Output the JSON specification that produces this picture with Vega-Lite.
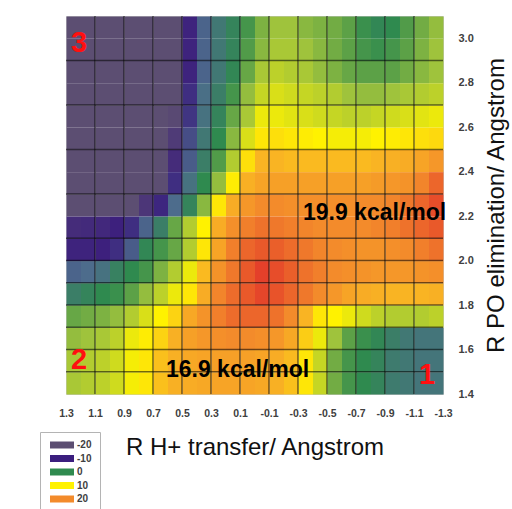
{
"$schema": "https://vega.github.io/schema/vega-lite/v6.json",
"width": 377, "height": 378,
"autosize": "none",
"padding": {"left": 66, "top": 16, "right": 69, "bottom": 115},
"background": "white",
"config": {"view": {"stroke": "#c8c8c8"}, "font": "Liberation Sans"},
"datasets": {
"surface": [
{"x":1.2,"y":3,"v":-25},{"x":1.1,"y":3,"v":-25},{"x":1,"y":3,"v":-25},{"x":0.9,"y":3,"v":-24.5},{"x":0.8,"y":3,"v":-24},{"x":0.7,"y":3,"v":-23.5},{"x":0.6,"y":3,"v":-22.5},{"x":0.5,"y":3,"v":-21},{"x":0.4,"y":3,"v":-11},{"x":0.3,"y":3,"v":-5.5},{"x":0.2,"y":3,"v":-3},{"x":0.1,"y":3,"v":-1},{"x":0,"y":3,"v":1},{"x":-0.1,"y":3,"v":3.5},{"x":-0.2,"y":3,"v":5},{"x":-0.3,"y":3,"v":5},{"x":-0.4,"y":3,"v":4},{"x":-0.5,"y":3,"v":3.5},{"x":-0.6,"y":3,"v":3},{"x":-0.7,"y":3,"v":2},{"x":-0.8,"y":3,"v":0.5},{"x":-0.9,"y":3,"v":-0.5},{"x":-1,"y":3,"v":0},{"x":-1.1,"y":3,"v":1.5},{"x":-1.2,"y":3,"v":3},{"x":-1.3,"y":3,"v":4.5},
{"x":1.2,"y":2.9,"v":-25},{"x":1.1,"y":2.9,"v":-25},{"x":1,"y":2.9,"v":-25},{"x":0.9,"y":2.9,"v":-24.5},{"x":0.8,"y":2.9,"v":-24},{"x":0.7,"y":2.9,"v":-23.5},{"x":0.6,"y":2.9,"v":-22.5},{"x":0.5,"y":2.9,"v":-21},{"x":0.4,"y":2.9,"v":-11},{"x":0.3,"y":2.9,"v":-5.5},{"x":0.2,"y":2.9,"v":-3},{"x":0.1,"y":2.9,"v":-1},{"x":0,"y":2.9,"v":1.5},{"x":-0.1,"y":2.9,"v":4},{"x":-0.2,"y":2.9,"v":5.5},{"x":-0.3,"y":2.9,"v":5.5},{"x":-0.4,"y":2.9,"v":5},{"x":-0.5,"y":2.9,"v":4},{"x":-0.6,"y":2.9,"v":3},{"x":-0.7,"y":2.9,"v":2},{"x":-0.8,"y":2.9,"v":1},{"x":-0.9,"y":2.9,"v":0.5},{"x":-1,"y":2.9,"v":1},{"x":-1.1,"y":2.9,"v":2},{"x":-1.2,"y":2.9,"v":3.5},{"x":-1.3,"y":2.9,"v":5},
{"x":1.2,"y":2.8,"v":-25},{"x":1.1,"y":2.8,"v":-25},{"x":1,"y":2.8,"v":-25},{"x":0.9,"y":2.8,"v":-24.5},{"x":0.8,"y":2.8,"v":-24},{"x":0.7,"y":2.8,"v":-23.5},{"x":0.6,"y":2.8,"v":-22.5},{"x":0.5,"y":2.8,"v":-20.5},{"x":0.4,"y":2.8,"v":-11},{"x":0.3,"y":2.8,"v":-5.5},{"x":0.2,"y":2.8,"v":-3},{"x":0.1,"y":2.8,"v":-0.5},{"x":0,"y":2.8,"v":2.5},{"x":-0.1,"y":2.8,"v":5.5},{"x":-0.2,"y":2.8,"v":6.5},{"x":-0.3,"y":2.8,"v":6},{"x":-0.4,"y":2.8,"v":5.5},{"x":-0.5,"y":2.8,"v":4.5},{"x":-0.6,"y":2.8,"v":3.5},{"x":-0.7,"y":2.8,"v":2.5},{"x":-0.8,"y":2.8,"v":2},{"x":-0.9,"y":2.8,"v":2},{"x":-1,"y":2.8,"v":2},{"x":-1.1,"y":2.8,"v":3},{"x":-1.2,"y":2.8,"v":4},{"x":-1.3,"y":2.8,"v":5},
{"x":1.2,"y":2.7,"v":-25},{"x":1.1,"y":2.7,"v":-25},{"x":1,"y":2.7,"v":-25},{"x":0.9,"y":2.7,"v":-24.5},{"x":0.8,"y":2.7,"v":-24},{"x":0.7,"y":2.7,"v":-23.5},{"x":0.6,"y":2.7,"v":-22.5},{"x":0.5,"y":2.7,"v":-20},{"x":0.4,"y":2.7,"v":-9},{"x":0.3,"y":2.7,"v":-4.5},{"x":0.2,"y":2.7,"v":-2},{"x":0.1,"y":2.7,"v":1},{"x":0,"y":2.7,"v":4.5},{"x":-0.1,"y":2.7,"v":7},{"x":-0.2,"y":2.7,"v":8},{"x":-0.3,"y":2.7,"v":7.5},{"x":-0.4,"y":2.7,"v":7},{"x":-0.5,"y":2.7,"v":6.5},{"x":-0.6,"y":2.7,"v":6},{"x":-0.7,"y":2.7,"v":5},{"x":-0.8,"y":2.7,"v":4.5},{"x":-0.9,"y":2.7,"v":4.5},{"x":-1,"y":2.7,"v":5},{"x":-1.1,"y":2.7,"v":5.5},{"x":-1.2,"y":2.7,"v":6},{"x":-1.3,"y":2.7,"v":6.5},
{"x":1.2,"y":2.6,"v":-25},{"x":1.1,"y":2.6,"v":-25},{"x":1,"y":2.6,"v":-25},{"x":0.9,"y":2.6,"v":-24.5},{"x":0.8,"y":2.6,"v":-24},{"x":0.7,"y":2.6,"v":-23.5},{"x":0.6,"y":2.6,"v":-22.5},{"x":0.5,"y":2.6,"v":-19},{"x":0.4,"y":2.6,"v":-8.5},{"x":0.3,"y":2.6,"v":-4},{"x":0.2,"y":2.6,"v":-1},{"x":0.1,"y":2.6,"v":2.5},{"x":0,"y":2.6,"v":5.5},{"x":-0.1,"y":2.6,"v":9},{"x":-0.2,"y":2.6,"v":9},{"x":-0.3,"y":2.6,"v":8.5},{"x":-0.4,"y":2.6,"v":8},{"x":-0.5,"y":2.6,"v":7.5},{"x":-0.6,"y":2.6,"v":7},{"x":-0.7,"y":2.6,"v":6.5},{"x":-0.8,"y":2.6,"v":6.5},{"x":-0.9,"y":2.6,"v":7},{"x":-1,"y":2.6,"v":7.5},{"x":-1.1,"y":2.6,"v":8},{"x":-1.2,"y":2.6,"v":8.5},{"x":-1.3,"y":2.6,"v":9},
{"x":1.2,"y":2.5,"v":-25},{"x":1.1,"y":2.5,"v":-25},{"x":1,"y":2.5,"v":-24.5},{"x":0.9,"y":2.5,"v":-24},{"x":0.8,"y":2.5,"v":-23.5},{"x":0.7,"y":2.5,"v":-23},{"x":0.6,"y":2.5,"v":-22},{"x":0.5,"y":2.5,"v":-16},{"x":0.4,"y":2.5,"v":-7},{"x":0.3,"y":2.5,"v":-3},{"x":0.2,"y":2.5,"v":0},{"x":0.1,"y":2.5,"v":4},{"x":0,"y":2.5,"v":8},{"x":-0.1,"y":2.5,"v":11},{"x":-0.2,"y":2.5,"v":11.5},{"x":-0.3,"y":2.5,"v":11},{"x":-0.4,"y":2.5,"v":10.5},{"x":-0.5,"y":2.5,"v":10},{"x":-0.6,"y":2.5,"v":9.5},{"x":-0.7,"y":2.5,"v":9.5},{"x":-0.8,"y":2.5,"v":9.5},{"x":-0.9,"y":2.5,"v":10},{"x":-1,"y":2.5,"v":10.5},{"x":-1.1,"y":2.5,"v":11},{"x":-1.2,"y":2.5,"v":11.5},{"x":-1.3,"y":2.5,"v":12},
{"x":1.2,"y":2.4,"v":-25},{"x":1.1,"y":2.4,"v":-25},{"x":1,"y":2.4,"v":-24.5},{"x":0.9,"y":2.4,"v":-24},{"x":0.8,"y":2.4,"v":-23.5},{"x":0.7,"y":2.4,"v":-23},{"x":0.6,"y":2.4,"v":-21.5},{"x":0.5,"y":2.4,"v":-13},{"x":0.4,"y":2.4,"v":-6},{"x":0.3,"y":2.4,"v":-2},{"x":0.2,"y":2.4,"v":1.5},{"x":0.1,"y":2.4,"v":6},{"x":0,"y":2.4,"v":11.5},{"x":-0.1,"y":2.4,"v":15},{"x":-0.2,"y":2.4,"v":15},{"x":-0.3,"y":2.4,"v":14.5},{"x":-0.4,"y":2.4,"v":14.5},{"x":-0.5,"y":2.4,"v":14.5},{"x":-0.6,"y":2.4,"v":14.5},{"x":-0.7,"y":2.4,"v":14.5},{"x":-0.8,"y":2.4,"v":14.5},{"x":-0.9,"y":2.4,"v":15},{"x":-1,"y":2.4,"v":15.5},{"x":-1.1,"y":2.4,"v":16},{"x":-1.2,"y":2.4,"v":17},{"x":-1.3,"y":2.4,"v":18.5},
{"x":1.2,"y":2.3,"v":-25},{"x":1.1,"y":2.3,"v":-24.5},{"x":1,"y":2.3,"v":-24},{"x":0.9,"y":2.3,"v":-24},{"x":0.8,"y":2.3,"v":-23.5},{"x":0.7,"y":2.3,"v":-22.5},{"x":0.6,"y":2.3,"v":-20},{"x":0.5,"y":2.3,"v":-9},{"x":0.4,"y":2.3,"v":-4},{"x":0.3,"y":2.3,"v":0},{"x":0.2,"y":2.3,"v":4.5},{"x":0.1,"y":2.3,"v":10.5},{"x":0,"y":2.3,"v":15.5},{"x":-0.1,"y":2.3,"v":17},{"x":-0.2,"y":2.3,"v":17.5},{"x":-0.3,"y":2.3,"v":17.5},{"x":-0.4,"y":2.3,"v":17.5},{"x":-0.5,"y":2.3,"v":17.5},{"x":-0.6,"y":2.3,"v":17.5},{"x":-0.7,"y":2.3,"v":17.5},{"x":-0.8,"y":2.3,"v":17.5},{"x":-0.9,"y":2.3,"v":18},{"x":-1,"y":2.3,"v":18.5},{"x":-1.1,"y":2.3,"v":19},{"x":-1.2,"y":2.3,"v":20.5},{"x":-1.3,"y":2.3,"v":23},
{"x":1.2,"y":2.2,"v":-24},{"x":1.1,"y":2.2,"v":-23.5},{"x":1,"y":2.2,"v":-23},{"x":0.9,"y":2.2,"v":-22},{"x":0.8,"y":2.2,"v":-20.5},{"x":0.7,"y":2.2,"v":-15},{"x":0.6,"y":2.2,"v":-9.5},{"x":0.5,"y":2.2,"v":-5},{"x":0.4,"y":2.2,"v":-1},{"x":0.3,"y":2.2,"v":4},{"x":0.2,"y":2.2,"v":11},{"x":0.1,"y":2.2,"v":16},{"x":0,"y":2.2,"v":18.5},{"x":-0.1,"y":2.2,"v":20},{"x":-0.2,"y":2.2,"v":20},{"x":-0.3,"y":2.2,"v":19.5},{"x":-0.4,"y":2.2,"v":19.5},{"x":-0.5,"y":2.2,"v":19.5},{"x":-0.6,"y":2.2,"v":19.5},{"x":-0.7,"y":2.2,"v":19.5},{"x":-0.8,"y":2.2,"v":20},{"x":-0.9,"y":2.2,"v":20},{"x":-1,"y":2.2,"v":20.5},{"x":-1.1,"y":2.2,"v":21.5},{"x":-1.2,"y":2.2,"v":23},{"x":-1.3,"y":2.2,"v":25},
{"x":1.2,"y":2.1,"v":-13},{"x":1.1,"y":2.1,"v":-12.5},{"x":1,"y":2.1,"v":-12},{"x":0.9,"y":2.1,"v":-10.5},{"x":0.8,"y":2.1,"v":-9},{"x":0.7,"y":2.1,"v":-5.5},{"x":0.6,"y":2.1,"v":-2},{"x":0.5,"y":2.1,"v":2.5},{"x":0.4,"y":2.1,"v":6},{"x":0.3,"y":2.1,"v":10},{"x":0.2,"y":2.1,"v":16},{"x":0.1,"y":2.1,"v":19.5},{"x":0,"y":2.1,"v":21},{"x":-0.1,"y":2.1,"v":22},{"x":-0.2,"y":2.1,"v":21.5},{"x":-0.3,"y":2.1,"v":21},{"x":-0.4,"y":2.1,"v":20.5},{"x":-0.5,"y":2.1,"v":20},{"x":-0.6,"y":2.1,"v":20},{"x":-0.7,"y":2.1,"v":20},{"x":-0.8,"y":2.1,"v":20},{"x":-0.9,"y":2.1,"v":20.5},{"x":-1,"y":2.1,"v":21},{"x":-1.1,"y":2.1,"v":22},{"x":-1.2,"y":2.1,"v":23},{"x":-1.3,"y":2.1,"v":24},
{"x":1.2,"y":2,"v":-11},{"x":1.1,"y":2,"v":-11},{"x":1,"y":2,"v":-10.5},{"x":0.9,"y":2,"v":-9},{"x":0.8,"y":2,"v":-6},{"x":0.7,"y":2,"v":-0.5},{"x":0.6,"y":2,"v":1},{"x":0.5,"y":2,"v":2.5},{"x":0.4,"y":2,"v":6},{"x":0.3,"y":2,"v":11},{"x":0.2,"y":2,"v":17},{"x":0.1,"y":2,"v":21},{"x":0,"y":2,"v":23},{"x":-0.1,"y":2,"v":24},{"x":-0.2,"y":2,"v":23.5},{"x":-0.3,"y":2,"v":22.5},{"x":-0.4,"y":2,"v":21.5},{"x":-0.5,"y":2,"v":20.5},{"x":-0.6,"y":2,"v":20},{"x":-0.7,"y":2,"v":19.5},{"x":-0.8,"y":2,"v":19},{"x":-0.9,"y":2,"v":19},{"x":-1,"y":2,"v":19.5},{"x":-1.1,"y":2,"v":20},{"x":-1.2,"y":2,"v":21},{"x":-1.3,"y":2,"v":22},
{"x":1.2,"y":1.9,"v":-5.5},{"x":1.1,"y":1.9,"v":-5},{"x":1,"y":1.9,"v":-4},{"x":0.9,"y":1.9,"v":-1.5},{"x":0.8,"y":1.9,"v":0},{"x":0.7,"y":1.9,"v":1},{"x":0.6,"y":1.9,"v":3.5},{"x":0.5,"y":1.9,"v":6},{"x":0.4,"y":1.9,"v":9},{"x":0.3,"y":1.9,"v":14.5},{"x":0.2,"y":1.9,"v":19},{"x":0.1,"y":1.9,"v":21.5},{"x":0,"y":1.9,"v":24},{"x":-0.1,"y":1.9,"v":26},{"x":-0.2,"y":1.9,"v":25},{"x":-0.3,"y":1.9,"v":23.5},{"x":-0.4,"y":1.9,"v":22},{"x":-0.5,"y":1.9,"v":21},{"x":-0.6,"y":1.9,"v":20},{"x":-0.7,"y":1.9,"v":19.5},{"x":-0.8,"y":1.9,"v":19},{"x":-0.9,"y":1.9,"v":18.5},{"x":-1,"y":1.9,"v":18.5},{"x":-1.1,"y":1.9,"v":18.5},{"x":-1.2,"y":1.9,"v":19},{"x":-1.3,"y":1.9,"v":19.5},
{"x":1.2,"y":1.8,"v":-2},{"x":1.1,"y":1.8,"v":-1},{"x":1,"y":1.8,"v":0},{"x":0.9,"y":1.8,"v":0.5},{"x":0.8,"y":1.8,"v":2},{"x":0.7,"y":1.8,"v":4.5},{"x":0.6,"y":1.8,"v":6.5},{"x":0.5,"y":1.8,"v":9},{"x":0.4,"y":1.8,"v":11},{"x":0.3,"y":1.8,"v":16},{"x":0.2,"y":1.8,"v":20.5},{"x":0.1,"y":1.8,"v":22.5},{"x":0,"y":1.8,"v":24},{"x":-0.1,"y":1.8,"v":25.5},{"x":-0.2,"y":1.8,"v":24.5},{"x":-0.3,"y":1.8,"v":23},{"x":-0.4,"y":1.8,"v":21.5},{"x":-0.5,"y":1.8,"v":20},{"x":-0.6,"y":1.8,"v":18.5},{"x":-0.7,"y":1.8,"v":17},{"x":-0.8,"y":1.8,"v":16},{"x":-0.9,"y":1.8,"v":15.5},{"x":-1,"y":1.8,"v":15},{"x":-1.1,"y":1.8,"v":15},{"x":-1.2,"y":1.8,"v":15},{"x":-1.3,"y":1.8,"v":15.5},
{"x":1.2,"y":1.7,"v":2.5},{"x":1.1,"y":1.7,"v":3},{"x":1,"y":1.7,"v":3.5},{"x":0.9,"y":1.7,"v":4.5},{"x":0.8,"y":1.7,"v":6},{"x":0.7,"y":1.7,"v":8},{"x":0.6,"y":1.7,"v":10},{"x":0.5,"y":1.7,"v":12.5},{"x":0.4,"y":1.7,"v":16.5},{"x":0.3,"y":1.7,"v":19},{"x":0.2,"y":1.7,"v":21},{"x":0.1,"y":1.7,"v":22.5},{"x":0,"y":1.7,"v":23},{"x":-0.1,"y":1.7,"v":23},{"x":-0.2,"y":1.7,"v":22},{"x":-0.3,"y":1.7,"v":20},{"x":-0.4,"y":1.7,"v":15},{"x":-0.5,"y":1.7,"v":11},{"x":-0.6,"y":1.7,"v":10},{"x":-0.7,"y":1.7,"v":9},{"x":-0.8,"y":1.7,"v":7.5},{"x":-0.9,"y":1.7,"v":6.5},{"x":-1,"y":1.7,"v":6},{"x":-1.1,"y":1.7,"v":6},{"x":-1.2,"y":1.7,"v":6},{"x":-1.3,"y":1.7,"v":6.5},
{"x":1.2,"y":1.6,"v":4.5},{"x":1.1,"y":1.6,"v":5},{"x":1,"y":1.6,"v":5.5},{"x":0.9,"y":1.6,"v":6.5},{"x":0.8,"y":1.6,"v":9},{"x":0.7,"y":1.6,"v":10.5},{"x":0.6,"y":1.6,"v":12.5},{"x":0.5,"y":1.6,"v":15.5},{"x":0.4,"y":1.6,"v":17.5},{"x":0.3,"y":1.6,"v":18.5},{"x":0.2,"y":1.6,"v":19.5},{"x":0.1,"y":1.6,"v":20},{"x":0,"y":1.6,"v":20},{"x":-0.1,"y":1.6,"v":19.5},{"x":-0.2,"y":1.6,"v":18.5},{"x":-0.3,"y":1.6,"v":16.5},{"x":-0.4,"y":1.6,"v":13},{"x":-0.5,"y":1.6,"v":9},{"x":-0.6,"y":1.6,"v":5},{"x":-0.7,"y":1.6,"v":2},{"x":-0.8,"y":1.6,"v":0.5},{"x":-0.9,"y":1.6,"v":-0.5},{"x":-1,"y":1.6,"v":-2},{"x":-1.1,"y":1.6,"v":-3},{"x":-1.2,"y":1.6,"v":-3.5},{"x":-1.3,"y":1.6,"v":-3.5},
{"x":1.2,"y":1.5,"v":5.5},{"x":1.1,"y":1.5,"v":6},{"x":1,"y":1.5,"v":6.5},{"x":0.9,"y":1.5,"v":7.5},{"x":0.8,"y":1.5,"v":9.5},{"x":0.7,"y":1.5,"v":11},{"x":0.6,"y":1.5,"v":14},{"x":0.5,"y":1.5,"v":15.5},{"x":0.4,"y":1.5,"v":16.5},{"x":0.3,"y":1.5,"v":17},{"x":0.2,"y":1.5,"v":17.5},{"x":0.1,"y":1.5,"v":17.5},{"x":0,"y":1.5,"v":17.5},{"x":-0.1,"y":1.5,"v":17},{"x":-0.2,"y":1.5,"v":16},{"x":-0.3,"y":1.5,"v":14.5},{"x":-0.4,"y":1.5,"v":11},{"x":-0.5,"y":1.5,"v":7},{"x":-0.6,"y":1.5,"v":3},{"x":-0.7,"y":1.5,"v":1},{"x":-0.8,"y":1.5,"v":0},{"x":-0.9,"y":1.5,"v":-1},{"x":-1,"y":1.5,"v":-2.5},{"x":-1.1,"y":1.5,"v":-3},{"x":-1.2,"y":1.5,"v":-3.5},{"x":-1.3,"y":1.5,"v":-3.5},
{"x":1.2,"y":1.4,"v":5.5},{"x":1.1,"y":1.4,"v":6},{"x":1,"y":1.4,"v":6.5},{"x":0.9,"y":1.4,"v":7.5},{"x":0.8,"y":1.4,"v":9.5},{"x":0.7,"y":1.4,"v":11},{"x":0.6,"y":1.4,"v":14},{"x":0.5,"y":1.4,"v":15.5},{"x":0.4,"y":1.4,"v":16},{"x":0.3,"y":1.4,"v":16.5},{"x":0.2,"y":1.4,"v":17},{"x":0.1,"y":1.4,"v":17},{"x":0,"y":1.4,"v":17},{"x":-0.1,"y":1.4,"v":16.5},{"x":-0.2,"y":1.4,"v":15.5},{"x":-0.3,"y":1.4,"v":14},{"x":-0.4,"y":1.4,"v":11},{"x":-0.5,"y":1.4,"v":7},{"x":-0.6,"y":1.4,"v":3},{"x":-0.7,"y":1.4,"v":1},{"x":-0.8,"y":1.4,"v":0},{"x":-0.9,"y":1.4,"v":-1},{"x":-1,"y":1.4,"v":-2.5},{"x":-1.1,"y":1.4,"v":-3},{"x":-1.2,"y":1.4,"v":-3.5},{"x":-1.3,"y":1.4,"v":-3.5}
],
"vlines": [{"x":1.1},{"x":0.9},{"x":0.7},{"x":0.5},{"x":0.3},{"x":0.1},{"x":-0.1},{"x":-0.3},{"x":-0.5},{"x":-0.7},{"x":-0.9},{"x":-1.1}],
"hlines": [{"y":2.9},{"y":2.7},{"y":2.5},{"y":2.3},{"y":2.1},{"y":2.0},{"y":1.9},{"y":1.8},{"y":1.7},{"y":1.6},{"y":1.5}],
"notes": [{"x":-0.828,"y":2.214,"t":"19.9 kcal/mol"},{"x":0.117,"y":1.508,"t":"16.9 kcal/mol"}],
"states": [{"x":1.21,"y":2.98,"t":"3"},{"x":1.21,"y":1.553,"t":"2"},{"x":-1.19,"y":1.485,"t":"1"}]
},
"layer": [
{"data": {"name": "surface"},
 "mark": {"type": "rect", "binSpacing": 0},
 "encoding": {
  "x": {"field": "x", "type": "quantitative", "bin": {"binned": true, "step": 0.1},
        "scale": {"domain": [-1.3, 1.3], "reverse": true, "nice": false, "zero": false},
        "axis": {"values": [1.3,1.1,0.9,0.7,0.5,0.3,0.1,-0.1,-0.3,-0.5,-0.7,-0.9,-1.1,-1.3],
                 "labelExpr": "replace(format(datum.value, '.1f'), '\u2212', '-')",
                 "ticks": false, "tickSize": 0, "domain": false, "grid": false, "labelPadding": 14,
                 "labelFontSize": 10.5, "labelFontWeight": "bold", "labelColor": "#404040",
                 "labelFlush": false, "labelOverlap": false,
                 "title": "R H+ transfer/ Angstrom", "titleFontSize": 24, "titleFontWeight": "normal",
                 "titleColor": "#111111", "titlePadding": 17}},
  "y": {"field": "y", "type": "quantitative", "bin": {"binned": true, "step": 0.1},
        "scale": {"domain": [1.4, 3.1], "nice": false, "zero": false},
        "axis": {"orient": "right", "values": [1.4,1.6,1.8,2.0,2.2,2.4,2.6,2.8,3.0],
                 "labelExpr": "format(datum.value, '.1f')", "labelAlign": "left",
                 "ticks": false, "tickSize": 0, "domain": false, "grid": false, "labelPadding": 15,
                 "labelFontSize": 11, "labelFontWeight": "bold", "labelColor": "#404040",
                 "labelFlush": false, "labelOverlap": false,
                 "title": "R PO elimination/ Angstrom", "titleFontSize": 24, "titleFontWeight": "normal",
                 "titleColor": "#111111", "titleAngle": 270, "titleBaseline": "top", "titlePadding": 11}},
  "color": {"field": "v", "type": "quantitative",
            "scale": {"domain": [-20,-10,-5,0,5,10,15,20,26],
                      "range": ["#5c4e72","#3b1e7e","#4d6c8c","#2f8a4f","#9fc33c","#fff200","#f9b423","#f38b2b","#e4402a"],
                      "clamp": true, "interpolate": "rgb"},
            "legend": {"type": "symbol", "values": [-20,-10,0,10,20], "title": null,
                       "orient": "none", "legendX": -26, "legendY": 416,
                       "symbolType": "M-3.43,-1H3.43V1H-3.43Z", "symbolSize": 49, "symbolStrokeWidth": 0,
                       "symbolOffset": 9, "labelOffset": 10,
                       "labelFontSize": 10, "labelFontWeight": "bold", "labelColor": "#404040",
                       "labelExpr": "replace(format(datum.value, 'd'), '\u2212', '-')",
                       "rowPadding": 3.5, "strokeColor": "#b4b4b4", "fillColor": "white", "padding": 8}}
 }},
{"data": {"name": "vlines"},
 "mark": {"type": "rule", "color": "#000000", "opacity": 0.55, "strokeWidth": 1.5},
 "encoding": {"x": {"field": "x", "type": "quantitative"}}},
{"data": {"name": "hlines"},
 "mark": {"type": "rule", "color": "#000000", "opacity": 0.55, "strokeWidth": 1.5},
 "encoding": {"y": {"field": "y", "type": "quantitative"}}},
{"data": {"name": "notes"},
 "mark": {"type": "text", "fontSize": 23, "fontWeight": "bold", "color": "#000000", "align": "center", "baseline": "middle"},
 "encoding": {"x": {"field": "x", "type": "quantitative"}, "y": {"field": "y", "type": "quantitative"}, "text": {"field": "t"}}},
{"data": {"name": "states"},
 "mark": {"type": "text", "fontSize": 29, "fontWeight": "bold", "color": "#ff1010", "align": "center", "baseline": "middle"},
 "encoding": {"x": {"field": "x", "type": "quantitative"}, "y": {"field": "y", "type": "quantitative"}, "text": {"field": "t"}}}
]
}
